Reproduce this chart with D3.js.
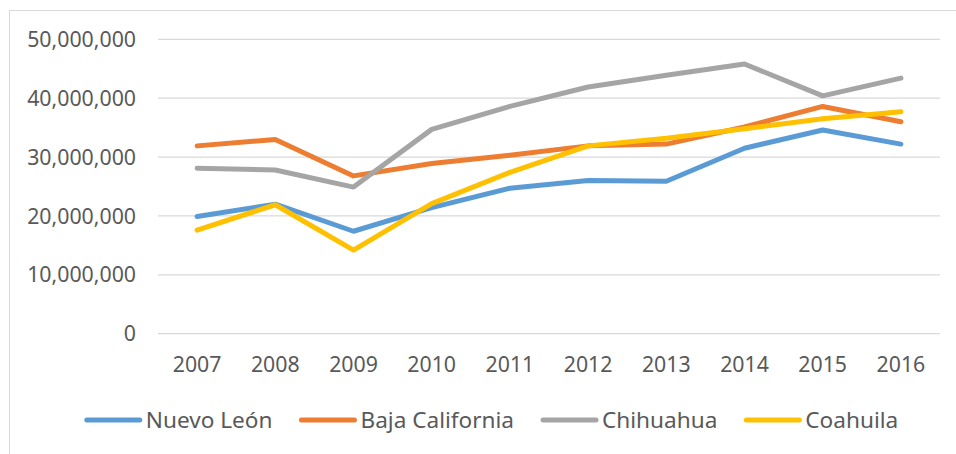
<!DOCTYPE html>
<html>
<head>
<meta charset="utf-8">
<script src="https://cdn.jsdelivr.net/npm/d3@7"></script>
<style>
  html, body { margin: 0; padding: 0; background: #fff; }
  svg { display: block; font-family: "Noto Sans", sans-serif; }
</style>
</head>
<body>
<svg id="chart" width="956" height="454"></svg>
<script>
const years = ["2007","2008","2009","2010","2011","2012","2013","2014","2015","2016"];
const seriesNames = ["Nuevo León", "Baja California", "Chihuahua", "Coahuila"];
const nuevoLeon     = [19.9e6, 22.0e6, 17.4e6, 21.4e6, 24.7e6, 26.0e6, 25.9e6, 31.5e6, 34.6e6, 32.2e6];
const bajaCalifornia= [31.9e6, 33.0e6, 26.8e6, 28.9e6, 30.3e6, 31.9e6, 32.2e6, 35.1e6, 38.6e6, 36.0e6];
const chihuahua     = [28.1e6, 27.8e6, 24.9e6, 34.7e6, 38.6e6, 41.9e6, 43.9e6, 45.8e6, 40.4e6, 43.4e6];
const coahuila      = [17.6e6, 21.9e6, 14.2e6, 22.1e6, 27.4e6, 31.9e6, 33.2e6, 34.8e6, 36.5e6, 37.7e6];
const yTicks = [0, 10e6, 20e6, 30e6, 40e6, 50e6];
const colors = ["#5B9BD5", "#ED7D31", "#A5A5A5", "#FFC000"];

const allSeries = [nuevoLeon, bajaCalifornia, chihuahua, coahuila];

const svg = d3.select("#chart");
const plot = { left: 158, right: 940, top: 39.3, bottom: 333.7 };

// chart area border
svg.append("rect")
  .attr("x", 9.5).attr("y", 10.5)
  .attr("width", 1000).attr("height", 1000)
  .attr("fill", "none").attr("stroke", "#d9d9d9").attr("stroke-width", 1);

const x = d3.scaleBand().domain(years).range([plot.left, plot.right]);
const y = d3.scaleLinear().domain([0, 50e6]).range([plot.bottom, plot.top]);

// gridlines
svg.append("g").selectAll("line").data(yTicks).join("line")
  .attr("x1", plot.left).attr("x2", plot.right)
  .attr("y1", d => y(d)).attr("y2", d => y(d))
  .attr("stroke", "#d9d9d9").attr("stroke-width", 1.3);

// y axis labels
const fmt = d3.format(",");
svg.append("g").selectAll("text").data(yTicks).join("text")
  .attr("x", 136).attr("y", d => y(d))
  .attr("dy", "0.36em")
  .attr("text-anchor", "end")
  .attr("fill", "#595959")
  .attr("font-size", 21.3)
  .text(d => fmt(d));

// x axis labels
svg.append("g").selectAll("text").data(years).join("text")
  .attr("x", d => x(d) + x.bandwidth() / 2).attr("y", 372)
  .attr("text-anchor", "middle")
  .attr("fill", "#595959")
  .attr("font-size", 21.3)
  .text(d => d);

// lines
const line = d3.line()
  .x((d, i) => x(years[i]) + x.bandwidth() / 2)
  .y(d => y(d));

svg.append("g").selectAll("path").data(allSeries).join("path")
  .attr("d", d => line(d))
  .attr("fill", "none")
  .attr("stroke", (d, i) => colors[i])
  .attr("stroke-width", 5)
  .attr("stroke-linecap", "round")
  .attr("stroke-linejoin", "round");

// legend
const legend = svg.append("g");
const entries = legend.selectAll("g").data(seriesNames).join("g");
entries.append("line")
  .attr("x1", 0).attr("x2", 53).attr("y1", 0).attr("y2", 0)
  .attr("stroke", (d, i) => colors[i])
  .attr("stroke-width", 5).attr("stroke-linecap", "round");
entries.append("text")
  .attr("x", 59).attr("y", 0).attr("dy", "0.36em")
  .attr("fill", "#595959").attr("font-size", 22.6)
  .text(d => d);
const widths = [];
entries.each(function() {
  const w = d3.select(this).select("text").node().getComputedTextLength();
  widths.push(59 + w);
});
const gap = 29;
const total = d3.sum(widths) + gap * (widths.length - 1);
let start = 492.5 - total / 2;
entries.attr("transform", (d, i) => {
  const tx = start;
  start += widths[i] + gap;
  return `translate(${tx},420)`;
});
</script>
</body>
</html>
